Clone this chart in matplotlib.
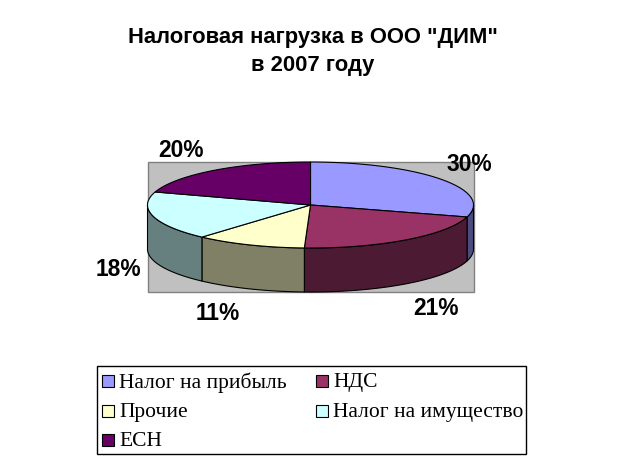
import numpy as np
import matplotlib
matplotlib.use("Agg")
import matplotlib.pyplot as plt
from matplotlib.patches import Polygon, Rectangle

title = 'Налоговая нагрузка в ООО "ДИМ"\nв 2007 году'
categories = ["Налог на прибыль", "НДС", "Прочие", "Налог на имущество", "ЕСН"]
# доли, подписи округлены
values = [29.5, 21.1, 11.0, 18.3, 20.1]
value_labels = ["30%", "21%", "11%", "18%", "20%"]
top_colors = ["#9999FF", "#993366", "#FFFFCC", "#CCFFFF", "#660066"]
side_colors = ["#4C4C80", "#4D1A33", "#808066", "#668080", "#330033"]
label_pos = [(469, 164), (436, 308), (218, 313), (118, 269), (181, 150)]
legend_pos = [(102, 381), (316, 381), (102, 411), (316, 411), (102, 440)]

# геометрия в пикселях картинки
CX, CY = 310.5, 205
RX, RY = 163, 43
DEPTH = 44
SWATCH = 12


def arc(t1, t2):
    # угол считаем по часовой стрелке от верхней точки
    t = np.radians(np.linspace(t1, t2, 120))
    return CX + RX * np.sin(t), CY - RY * np.cos(t)


fig = plt.figure(figsize=(6.23, 4.65), dpi=100)
ax = fig.add_axes([0, 0, 1, 1])
ax.set_xlim(0, 623)
ax.set_ylim(465, 0)
ax.axis("off")

ax.text(313, 51.5, title, ha="center", va="center", fontsize=15.8,
        fontweight="bold", family="Liberation Sans", linespacing=1.42)

ax.add_patch(Rectangle((147.5, 162), 326, 130, facecolor="#C0C0C0",
                       edgecolor="#808080", linewidth=1))

edges = np.cumsum([0] + values) / sum(values) * 360

# боковые стенки, видна только передняя половина
for i in range(len(values)):
    t1 = max(edges[i], 90)
    t2 = min(edges[i + 1], 270)
    if t1 >= t2:
        continue
    x, y = arc(t1, t2)
    pts = np.vstack([np.column_stack([x, y]),
                     np.column_stack([x[::-1], y[::-1] + DEPTH])])
    ax.add_patch(Polygon(pts, closed=True, facecolor=side_colors[i],
                         edgecolor="black", linewidth=0.8))

# верхняя крышка
for i in range(len(values)):
    x, y = arc(edges[i], edges[i + 1])
    pts = np.vstack([[CX, CY], np.column_stack([x, y])])
    ax.add_patch(Polygon(pts, closed=True, facecolor=top_colors[i],
                         edgecolor="black", linewidth=0.8))

for label, (px, py) in zip(value_labels, label_pos):
    ax.text(px, py, label, ha="center", va="center", fontsize=16.4,
            fontweight="bold", family="Liberation Sans")

# легенда
ax.add_patch(Rectangle((96.5, 365.5), 429, 88, facecolor="white",
                       edgecolor="black", linewidth=1))
for name, color, (px, py) in zip(categories, top_colors, legend_pos):
    ax.add_patch(Rectangle((px, py - SWATCH / 2), SWATCH, SWATCH, facecolor=color,
                           edgecolor="black", linewidth=0.8))
    ax.text(px + SWATCH + 5, py - 1, name, ha="left", va="center_baseline",
            fontsize=15.5, family="Liberation Serif")

fig.savefig("out.png", dpi=100)
